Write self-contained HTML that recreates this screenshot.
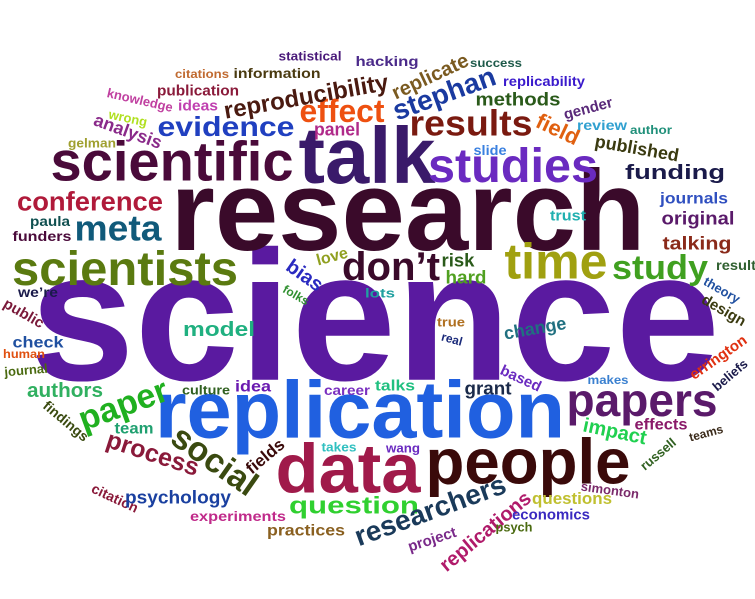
<!DOCTYPE html>
<html><head><meta charset="utf-8"><style>
html,body{margin:0;padding:0;background:#fff;}
svg{display:block;}
text{font-family:"Liberation Sans",Arial,sans-serif;font-weight:bold;}
</style></head><body>
<svg id="cloud" width="755" height="599" viewBox="0 0 755 599"></svg>
<script>
// [word, centerX, centerY, fontSize, rotation, color, width(0=auto)]
const words = [
["science",375,315,185,0,"#5a1aa0",690],
["research",408,210,114,0,"#3a0a2a",475],
["replication",360,409,81,0,"#2060e0",410],
["data",348,468,70,0,"#a01a4a",145],
["people",528,461,64,0,"#3a0a0a",205],
["scientific",172,161,56,0,"#4a0a3a",243],
["talk",367,155,80,0,"#3a1a6a",137],
["studies",513,165,48,0,"#6a2ac0",170],
["time",556,261,50,0,"#a0a010",103],
["don’t",391,266,40,0,"#3a0a2a",98],
["scientists",125,268,48,0,"#5a7a10",226],
["papers",642,400,46,0,"#5a1a6a",151],
["results",471,123,36,0,"#7a1a10",123],
["effect",342,111,32,0,"#ee5010",85],
["evidence",226,126,28,0,"#2040c0",137],
["meta",118,228,36,0,"#105a7a",87],
["conference",90,201,27,0,"#b01a3a",146],
["study",660,267,34,0,"#40a020",96],
["reproducibility",306,96,24,-10,"#4a1a10",0],
["stephan",444,93,28,-20,"#1a3aa0",0],
["replicate",430,76,20,-25,"#7a5a20",0],
["statistical",310,56,13,0,"#4a1a7a",63],
["hacking",387,61,14,0,"#4b2a8a",63],
["success",496,63,12,0,"#1e5a4a",52],
["citations",202,74,12,0,"#c06a30",54],
["information",277,73,14,0,"#4a3a10",87],
["replicability",544,81,14,0,"#3a1acc",82],
["methods",518,99,18,0,"#2a5a1a",85],
["knowledge",140,100,13,13,"#c040a0",0],
["publication",198,90,15,0,"#8a1a3a",82],
["ideas",198,105,15,0,"#c040b0",40],
["wrong",128,118,13,12,"#b0e020",0],
["analysis",128,131,18,20,"#8a2a8a",0],
["field",558,129,22,25,"#e06010",0],
["gender",588,108,15,-15,"#5a2a7a",0],
["review",602,125,14,0,"#30a0d0",50],
["author",651,130,12,0,"#20907a",42],
["panel",337,129,18,0,"#b02a8a",46],
["published",637,148,18,10,"#3a3a10",0],
["slide",490,150,14,0,"#3a80e0",33],
["gelman",92,143,13,0,"#a0a030",48],
["funding",675,172,20,0,"#1a1a4a",100],
["paula",50,221,14,0,"#105050",40],
["funders",42,236,14,0,"#4a0a3a",59],
["journals",694,198,16,0,"#3050c0",68],
["trust",568,215,15,0,"#20b0b0",36],
["original",698,218,18,0,"#5a1a6a",73],
["talking",697,243,18,0,"#8a2a1a",69],
["risk",458,260,18,0,"#2a5a1a",33],
["hard",466,277,18,0,"#50a020",41],
["result",736,265,14,0,"#306030",40],
["theory",722,290,13,30,"#2050a0",0],
["bias",305,275,20,35,"#2a2ac0",0],
["love",332,256,16,-15,"#90a020",0],
["folks",296,295,12,30,"#309030",0],
["lots",380,293,13,0,"#20a0a0",30],
["we’re",38,292,14,0,"#1a1a4a",40],
["design",724,310,15,30,"#3a3a10",0],
["public",24,313,15,30,"#7a1a3a",0],
["model",219,329,20,0,"#20b080",72],
["true",451,322,13,0,"#b07020",28],
["real",452,339,12,15,"#1a2a7a",0],
["change",535,328,18,-10,"#207080",0],
["errington",718,357,15,-35,"#e03010",0],
["beliefs",730,375,13,-40,"#1a1a4a",0],
["check",38,342,16,0,"#2050a0",51],
["human",24,354,12,0,"#e05010",42],
["journal",26,370,13,-5,"#4a6a10",0],
["based",521,378,15,25,"#6a2ac0",0],
["makes",608,380,12,0,"#3a80d0",41],
["authors",65,390,20,0,"#30b060",76],
["paper",123,404,34,-20,"#20b020",0],
["culture",206,390,13,0,"#306020",48],
["idea",253,386,16,0,"#6a1ab0",36],
["career",347,390,14,0,"#7a30c0",46],
["talks",395,385,15,0,"#20c080",40],
["grant",488,388,18,0,"#1a2a4a",47],
["impact",615,431,20,12,"#20d050",0],
["effects",661,424,16,0,"#8a1a6a",53],
["teams",706,433,12,-15,"#3a2a1a",0],
["russell",658,454,13,-40,"#306020",0],
["team",134,428,16,0,"#20a070",39],
["findings",66,421,14,40,"#3a4a10",0],
["takes",339,447,13,0,"#30c0c0",35],
["process",153,453,25,18,"#8a1a3a",0],
["social",215,460,34,35,"#3a4a10",0],
["fields",265,456,17,-40,"#3a0a0a",0],
["wang",403,448,13,0,"#6a2ac0",34],
["citation",115,498,14,25,"#8a1a3a",0],
["psychology",178,497,18,0,"#1a40a0",106],
["question",354,505,24,0,"#30d030",130],
["researchers",430,510,28,-20,"#1a3a5a",0],
["simonton",610,490,13,8,"#7a2a6a",0],
["replications",485,531,20,-40,"#b01a6a",0],
["questions",572,498,17,0,"#c0c030",80],
["experiments",238,516,14,0,"#c02a8a",96],
["economics",551,514,15,0,"#3a2ac0",78],
["practices",306,530,16,0,"#8a6020",78],
["project",432,539,15,-18,"#7a2a8a",0],
["psych",514,527,13,0,"#4a6a10",37]
];
const svg = document.getElementById('cloud');
const NS = 'http://www.w3.org/2000/svg';
for (const w of words) {
  const t = document.createElementNS(NS, 'text');
  
  
  const base = w[2] + 0.35 * w[3];
  t.setAttribute('x', w[1]);
  t.setAttribute('y', base);
  t.setAttribute('text-anchor', 'middle');
  t.setAttribute('font-size', w[3]);
  t.setAttribute('fill', w[5]);
  if (w[6]) { t.setAttribute('textLength', w[6]); t.setAttribute('lengthAdjust', 'spacingAndGlyphs'); }
  if (w[4]) t.setAttribute('transform', 'rotate(' + w[4] + ' ' + w[1] + ' ' + w[2] + ')');
  t.textContent = w[0];
  svg.appendChild(t);
}
</script>
</body></html>
